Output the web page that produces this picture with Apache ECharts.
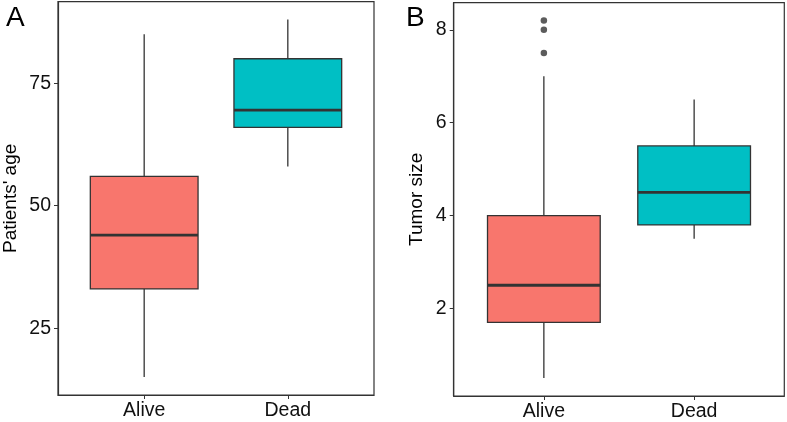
<!DOCTYPE html>
<html>
<head>
<meta charset="utf-8">
<script src="https://cdn.jsdelivr.net/npm/echarts@6/dist/echarts.min.js"></script>
<style>html,body{margin:0;padding:0;background:#fff}#c{width:787px;height:422px}</style>
</head>
<body>
<div id="c"></div>
<script>
// ---- data ----
const categories = ['Alive', 'Dead'];
// [min, Q1, median, Q3, max]
const ageAlive = [15, 33, 44, 56, 85];
const ageDead = [58, 66, 69.5, 80, 88];
const sizeAlive = [0.5, 1.7, 2.5, 4.0, 7.0];
const sizeDead = [3.5, 3.8, 4.5, 5.5, 6.5];
const sizeOutliersAlive = [8.2, 8.0, 7.5];
const ageTicks = [25, 50, 75];
const sizeTicks = [2, 4, 6, 8];
const panelLabels = ['A', 'B'];
const yTitles = ["Patients' age", 'Tumor size'];

// ---- style ----
const fills = ['#F8766D', '#00BFC4'];
const dark = '#333333';
const font = 'Liberation Sans, Arial, sans-serif';

function renderBox(params, api) {
  const x = api.value(0);
  const v = [1, 2, 3, 4, 5].map(i => api.value(i));
  const w = api.size([0.75, 0])[0];
  const pMin = api.coord([x, v[0]]);
  const pQ1 = api.coord([x, v[1]]);
  const pMed = api.coord([x, v[2]]);
  const pQ3 = api.coord([x, v[3]]);
  const pMax = api.coord([x, v[4]]);
  const cx = pMed[0];
  const fill = fills[params.dataIndex];
  return {
    type: 'group',
    children: [
      { type: 'line', shape: { x1: cx, y1: pMax[1], x2: cx, y2: pQ3[1] }, style: { stroke: dark, lineWidth: 1.3 } },
      { type: 'line', shape: { x1: cx, y1: pQ1[1], x2: cx, y2: pMin[1] }, style: { stroke: dark, lineWidth: 1.3 } },
      { type: 'rect', shape: { x: cx - w / 2, y: pQ3[1], width: w, height: pQ1[1] - pQ3[1] }, style: { fill: fill, stroke: dark, lineWidth: 1.3 } },
      { type: 'line', shape: { x1: cx - w / 2, y1: pMed[1], x2: cx + w / 2, y2: pMed[1] }, style: { stroke: dark, lineWidth: 2.8 } }
    ]
  };
}

function xAxisCfg(gi) {
  return {
    gridIndex: gi, type: 'value', min: 0.4, max: 2.6,
    splitLine: { show: false },
    axisLine: { show: true, lineStyle: { color: dark, width: 1.2 } },
    axisTick: { show: true, length: 4, customValues: [1, 2], lineStyle: { color: dark } },
    axisLabel: { customValues: [1, 2], formatter: v => categories[Math.round(v) - 1], color: '#111', fontSize: 19.5, fontFamily: font, margin: 6 }
  };
}
function yAxisCfg(gi, min, max, ticks, name, gap) {
  return {
    gridIndex: gi, type: 'value', min: min, max: max,
    name: name, nameLocation: 'middle', nameGap: gap,
    nameTextStyle: { color: '#000', fontSize: 19, fontFamily: font },
    splitLine: { show: false },
    axisLine: { show: true, lineStyle: { color: dark, width: 1.2 } },
    axisTick: { show: true, length: 4, customValues: ticks, lineStyle: { color: dark } },
    axisLabel: { customValues: ticks, color: '#111', fontSize: 19.5, fontFamily: font, margin: 7 }
  };
}

const chart = echarts.init(document.getElementById('c'), null, { renderer: 'canvas' });
chart.setOption({
  animation: false,
  backgroundColor: '#fff',
  title: [
    { text: panelLabels[0], left: 1, top: -1, textStyle: { fontSize: 28, fontWeight: 'normal', color: '#000', fontFamily: font } },
    { text: panelLabels[1], left: 401, top: -1, textStyle: { fontSize: 28, fontWeight: 'normal', color: '#000', fontFamily: font } }
  ],
  grid: [
    { left: 57.7, right: 413, top: 1.7, bottom: 27, show: true, borderColor: dark, borderWidth: 1.2, backgroundColor: 'transparent' },
    { left: 453.7, right: 2.7, top: 2.7, bottom: 26, show: true, borderColor: dark, borderWidth: 1.2, backgroundColor: 'transparent' }
  ],
  xAxis: [xAxisCfg(0), xAxisCfg(1)],
  yAxis: [
    yAxisCfg(0, 11.35, 91.65, ageTicks, yTitles[0], 38),
    yAxisCfg(1, 0.115, 8.585, sizeTicks, yTitles[1], 27)
  ],
  series: [
    {
      type: 'custom', xAxisIndex: 0, yAxisIndex: 0, renderItem: renderBox,
      encode: { x: 0, y: [1, 2, 3, 4, 5] },
      data: [[1].concat(ageAlive), [2].concat(ageDead)]
    },
    {
      type: 'custom', xAxisIndex: 1, yAxisIndex: 1, renderItem: renderBox,
      encode: { x: 0, y: [1, 2, 3, 4, 5] },
      data: [[1].concat(sizeAlive), [2].concat(sizeDead)]
    },
    {
      type: 'scatter', xAxisIndex: 1, yAxisIndex: 1, symbol: 'circle', symbolSize: 6.5,
      itemStyle: { color: dark },
      data: sizeOutliersAlive.map(v => [1, v])
    }
  ]
});
</script>
</body>
</html>
